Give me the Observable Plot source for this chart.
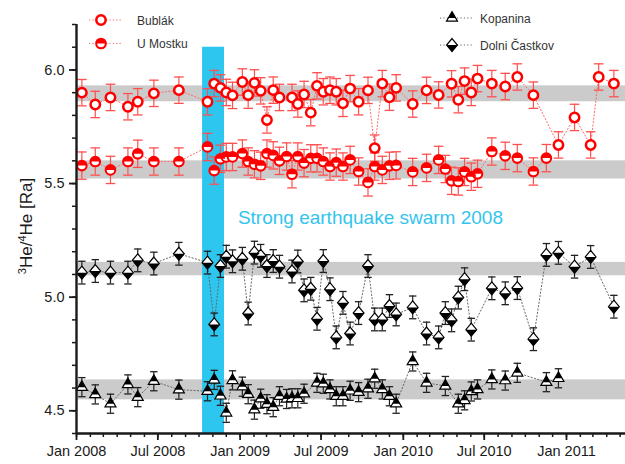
<!DOCTYPE html>
<html><head><meta charset="utf-8">
<script src="https://cdn.jsdelivr.net/npm/d3@7"></script>
<script src="https://cdn.jsdelivr.net/npm/@observablehq/plot@0.6"></script>
<style>
body{margin:0;background:#fff;font-family:"Liberation Sans",Arial,sans-serif}
#chart{width:625px;height:464px}
</style>
</head><body><div id="chart"></div>
<script>
// ---- data ----
const dates = [
 "2008-01-13","2008-02-12","2008-03-17","2008-04-25","2008-05-17","2008-06-22","2008-08-17","2008-10-20","2008-11-04","2008-11-18","2008-12-01","2008-12-15",
 "2009-01-06","2009-01-19","2009-02-02","2009-02-16","2009-03-02","2009-03-16","2009-03-30","2009-04-15","2009-04-27","2009-05-10","2009-05-24","2009-06-08","2009-06-22","2009-07-06","2009-07-21","2009-08-04","2009-08-19","2009-09-04","2009-09-23","2009-10-14","2009-10-29","2009-11-15","2009-12-01","2009-12-16",
 "2010-01-22","2010-02-22","2010-03-21","2010-04-05","2010-04-19","2010-05-04","2010-05-18","2010-06-02","2010-06-16","2010-07-18","2010-08-17","2010-09-13","2010-10-19","2010-11-17","2010-12-14",
 "2011-01-19","2011-02-24","2011-03-14","2011-04-17"
];
const bublak = [
 5.90,5.848,5.879,5.838,5.86,5.897,5.911,5.86,5.94,5.921,5.901,5.888,
 5.947,5.889,5.943,5.908,5.78,5.911,5.879,null,5.879,5.85,5.892,5.812,5.93,5.904,5.911,5.904,5.853,5.918,5.86,5.91,5.656,5.94,5.88,5.921,
 5.85,5.91,5.89,null,5.939,5.869,5.951,5.901,5.962,5.94,5.927,5.969,5.889,null,5.67,
 5.791,5.67,5.969,5.94
];
const uMostku = [
 5.579,5.597,5.56,5.597,5.631,5.597,5.597,5.661,5.557,5.609,5.617,5.617,
 5.632,5.597,5.585,5.578,5.632,5.624,5.60,5.619,5.541,5.619,5.59,5.611,5.611,5.597,5.575,5.592,5.575,5.604,5.553,5.505,5.575,5.56,5.578,5.58,
 5.551,5.569,5.604,5.564,5.512,5.509,5.551,5.53,5.543,5.641,5.622,5.612,5.553,5.612,null,
 null,null,null,null
];
const kopanina = [
 4.604,4.572,4.531,4.616,4.56,4.63,4.593,4.586,4.636,4.566,4.491,4.634,
 4.606,4.573,4.505,4.553,4.529,4.516,4.564,4.552,4.555,4.555,4.575,null,4.623,4.619,4.594,4.564,4.564,4.588,4.582,4.597,4.641,4.594,4.564,4.531,
 4.717,4.623,null,4.609,null,4.531,4.546,4.585,4.594,4.638,4.633,4.667,null,4.626,4.643,
 null,null,null,null
];
const dolniCastkov = [
 5.108,5.115,5.108,5.108,5.162,5.148,5.191,5.152,4.88,5.137,5.178,5.158,
 5.169,4.928,5.196,5.182,5.137,5.159,5.134,null,5.113,5.157,5.03,5.037,4.905,5.159,5.035,4.823,4.975,4.84,4.93,5.137,4.902,4.902,4.961,4.924,
 4.955,4.84,4.823,4.93,4.898,4.998,5.079,4.857,null,5.039,5.017,5.04,4.815,5.186,5.195,
 5.134,5.177,null,4.958
];
const seriesNames = ["Bublák","U Mostku","Kopanina","Dolni Častkov"];
const errors = [0.058, 0.06, 0.042, 0.05];
const bandLow  = [5.86, 5.52, 4.548, 5.094];
const bandHigh = [5.93, 5.60, 4.636, 5.153];
const swarmStart = "2008-10-09", swarmEnd = "2008-11-27", swarmTop = 6.1;
const annotationText = "Strong earthquake swarm 2008";
const annotationDate = "2008-12-27", annotationValue = 5.35;
const yTicks = [4.5, 5.0, 5.5, 6.0];
const xDomain = ["2008-01-01", "2011-05-13"];
const yDomain = [4.4, 6.2];
const yLabel = ["3","He/","4","He [Ra]"];

// ---- symbols ----
function sym(fn){ return {draw(c, size){ fn(c, Math.sqrt(size / Math.PI)); }}; }
const circleFull = sym((c,r)=>{ c.moveTo(r,0); c.arc(0,0,r,0,2*Math.PI); c.closePath(); });
const circleTop  = sym((c,r)=>{ c.moveTo(r,0); c.arc(0,0,r,0,Math.PI,true); c.closePath(); });
const triFull = sym((c,r)=>{ c.moveTo(0,-1.25*r); c.lineTo(1.08*r,0.63*r); c.lineTo(-1.08*r,0.63*r); c.closePath(); });
const triTop  = sym((c,r)=>{ c.moveTo(0,-1.25*r); c.lineTo(0.72*r,0); c.lineTo(-0.72*r,0); c.closePath(); });
const diaFull = sym((c,r)=>{ c.moveTo(0,-1.2*r); c.lineTo(r,0); c.lineTo(0,1.2*r); c.lineTo(-r,0); c.closePath(); });
const diaBot  = sym((c,r)=>{ c.moveTo(-r,0); c.lineTo(r,0); c.lineTo(0,1.2*r); c.closePath(); });
const capSym  = sym((c,r)=>{ c.moveTo(-r,0); c.lineTo(r,0); });

const rows = vals => dates.map((d,i)=>({date:new Date(d), v:vals[i]})).filter(r=>r.v!=null);

const RED = "#ff0000";
const styles = [
  {data:rows(bublak), err:errors[0], line:"#ff6b6b", errC:"#ff5050", cap:4.8, full:circleFull, half:null, r:4.7, sw:2.5, stroke:RED, halfFill:RED},
  {data:rows(uMostku), err:errors[1], line:"#ff6b6b", errC:"#ff5050", cap:4.8, full:circleFull, half:circleTop, r:4.8, sw:2.1, stroke:RED, halfFill:RED},
  {data:rows(kopanina), err:errors[2], line:"#666", errC:"#222", cap:3.7, full:triFull, half:triTop, r:5.1, sw:1.2, stroke:"#000", halfFill:"#000"},
  {data:rows(dolniCastkov), err:errors[3], line:"#666", errC:"#222", cap:3.7, full:diaFull, half:diaBot, r:5.4, sw:1.2, stroke:"#000", halfFill:"#000"}
];

const x0 = new Date(xDomain[0]), x1 = new Date(xDomain[1]);
const bands = bandLow.map((lo,i)=>({lo, hi:bandHigh[i]}));

const marks = [
  Plot.rect(bands, {x1:()=>x0, x2:()=>x1, y1:"lo", y2:"hi", fill:"#cbcbcb"}),
  Plot.rect([{a:new Date(swarmStart), b:new Date(swarmEnd)}], {x1:"a", x2:"b", y1:()=>yDomain[0], y2:()=>swarmTop, fill:"#2cc6ef"}),
  Plot.text([annotationText], {x:()=>new Date(annotationDate), y:()=>annotationValue, text:d=>d, textAnchor:"start", fontSize:19, fill:"#33c4ee"})
];
for (const s of styles) {
  marks.push(Plot.line(s.data, {x:"date", y:"v", stroke:s.line, strokeWidth:1, strokeDasharray:"1.2,2.2"}));
}
for (const s of styles) {
  marks.push(Plot.ruleX(s.data, {x:"date", y1:d=>d.v-s.err, y2:d=>d.v+s.err, stroke:s.errC, strokeWidth:1.2}));
  marks.push(Plot.dot(s.data, {x:"date", y:d=>d.v+s.err, symbol:capSym, r:s.cap, fill:"none", stroke:s.errC, strokeWidth:1.3}));
  marks.push(Plot.dot(s.data, {x:"date", y:d=>d.v-s.err, symbol:capSym, r:s.cap, fill:"none", stroke:s.errC, strokeWidth:1.3}));
}
for (const s of styles) {
  marks.push(Plot.dot(s.data, {x:"date", y:"v", symbol:s.full, r:s.r, fill:"white", stroke:s.stroke, strokeWidth:s.sw}));
  if (s.half) marks.push(Plot.dot(s.data, {x:"date", y:"v", symbol:s.half, r:s.r, fill:s.halfFill, stroke:"none"}));
}
const minorX = d3.utcMonth.range(x0, x1);
const majorX = d3.utcMonth.every(6).range(x0, x1);
const minorY = d3.range(44, 63).map(v=>v/10);
marks.push(
  Plot.axisX({ticks:minorX, tickSize:4, tickFormat:()=>"", strokeWidth:1.5, label:null}),
  Plot.axisX({ticks:majorX, tickSize:7, tickPadding:5, tickFormat:d3.utcFormat("%b %Y"), fontSize:14.5, strokeWidth:1.8, label:null}),
  Plot.axisY({ticks:minorY, tickSize:4, tickFormat:()=>"", strokeWidth:1.5, label:null}),
  Plot.axisY({ticks:yTicks, tickSize:7, tickPadding:5, tickFormat:d=>d.toFixed(1), fontSize:14.5, strokeWidth:1.8, label:null}),
  Plot.ruleY([yDomain[0]], {strokeWidth:2.4}),
  Plot.ruleX([x0], {strokeWidth:2.4})
);

const svg = Plot.plot({
  width:625, height:464,
  marginLeft:76, marginRight:0, marginTop:24, marginBottom:31,
  style:{fontFamily:"'Liberation Sans', Arial, sans-serif", color:"#1a1a1a", background:"white"},
  x:{type:"utc", domain:[x0, x1]},
  y:{domain:yDomain},
  marks
});
document.getElementById("chart").appendChild(svg);

// ---- y label & legend ----
const g = d3.select(svg).append("g").attr("font-family","'Liberation Sans', Arial, sans-serif");
const yl = g.append("text").attr("transform","translate(32,226) rotate(-90)").attr("text-anchor","middle")
  .attr("font-size",17).attr("fill","#1a1a1a");
yl.append("tspan").attr("font-size",11).attr("dy",-6).text(yLabel[0]);
yl.append("tspan").attr("dy",6).text(yLabel[1]);
yl.append("tspan").attr("font-size",11).attr("dy",-6).text(yLabel[2]);
yl.append("tspan").attr("dy",6).text(yLabel[3]);

const legend = [
  {x:101, y:20, s:styles[0]}, {x:101, y:43.5, s:styles[1]},
  {x:452, y:18, s:styles[2]}, {x:452, y:45, s:styles[3]}
];
legend.forEach((L,i)=>{
  const s = L.s;
  g.append("line").attr("x1",L.x-12).attr("x2",L.x+21).attr("y1",L.y).attr("y2",L.y)
    .attr("stroke",s.line).attr("stroke-dasharray","1.2,2.2");
  const sz = s.r*s.r*Math.PI;
  g.append("path").attr("transform",`translate(${L.x},${L.y})`).attr("d",d3.symbol().type(s.full).size(sz)())
    .attr("fill","white").attr("stroke",s.stroke).attr("stroke-width",s.sw);
  if (s.half) g.append("path").attr("transform",`translate(${L.x},${L.y})`).attr("d",d3.symbol().type(s.half).size(sz)())
    .attr("fill",s.halfFill);
  g.append("text").attr("x", i<2 ? 137 : 480).attr("y",L.y+4.5).attr("text-anchor","start")
    .attr("font-size",12).attr("fill","#333").text(seriesNames[i]);
});
</script>
</body></html>
